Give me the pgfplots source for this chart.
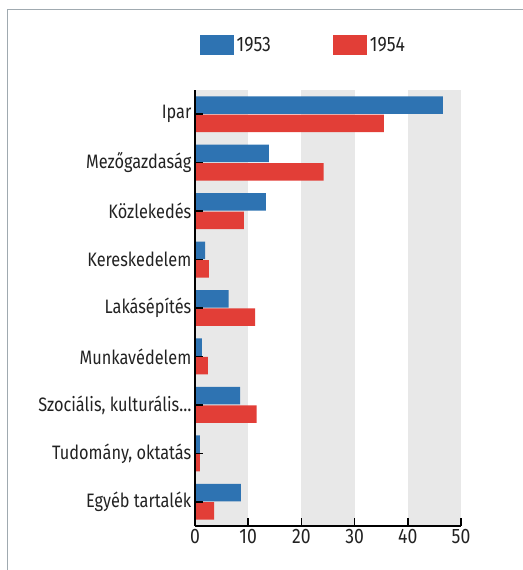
\documentclass[border=0pt]{standalone}
\usepackage{pgfplots}
\pgfplotsset{compat=1.18}
\usepackage{fontspec}
\setmainfont{Fira Sans}[FakeStretch=0.84]
\definecolor{cblue}{HTML}{2E73B2}
\definecolor{cred}{HTML}{E23E37}
\definecolor{band}{HTML}{E8E8E8}
\definecolor{frame}{HTML}{A0AAB0}
\definecolor{txt}{HTML}{222222}
\begin{document}
\begin{tikzpicture}[x=1bp,y=1bp]
\path[use as bounding box] (0,0) rectangle (523,570);
\draw[frame, line width=1.8bp] (7.5,0) -- (7.5,560.5) -- (523,560.5);
\begin{axis}[
  at={(195bp,44bp)}, anchor=south west,
  scale only axis, width=266bp, height=436bp,
  axis on top,
  xbar, bar width=17.5bp,
  xmin=0, xmax=50, ymin=-0.5, ymax=8.5,
  y dir=reverse,
  axis x line*=bottom, axis y line*=left,
  axis line style={line width=1.6bp, black, -},
  tick style={line width=1.6bp, black},
  tick align=inside,
  major tick length=8bp,
  xtick={0,10,20,30,40,50},
  ytick={0,...,8},
  yticklabels={Ipar,Mezőgazdaság,Közlekedés,Kereskedelem,Lakásépítés,Munkavédelem,{Szociális, kulturális\ldots},{Tudomány, oktatás},Egyéb tartalék},
  /pgf/number format/assume math mode=true,
  x tick label style={font=\fontsize{21}{21}\selectfont, text=txt},
  y tick label style={font=\fontsize{19.5}{19.5}\selectfont, text=txt, inner sep=3.5bp},
  legend columns=2,
  legend style={draw=none, fill=none, at={(axis description cs:0,1)}, anchor=west,
    xshift=5bp, yshift=45bp, inner sep=0pt,
    font=\fontsize{21}{21}\selectfont, text=txt,
    /tikz/every even column/.append style={column sep=60bp},
    nodes={inner sep=2.5bp}},
  legend image code/.code={\fill[#1] (0bp,-10bp) rectangle (34bp,10bp);},
]
\fill[band] (axis cs:0,-0.5) rectangle (axis cs:10,8.5);
\fill[band] (axis cs:20,-0.5) rectangle (axis cs:30,8.5);
\fill[band] (axis cs:40,-0.5) rectangle (axis cs:50,8.5);
\addplot[fill=cblue, draw=none, bar shift=9.2bp] coordinates {
(46.6,0) (13.9,1) (13.3,2) (1.9,3) (6.3,4) (1.3,5) (8.5,6) (0.9,7) (8.6,8)};
\addplot[fill=cred, draw=none, bar shift=-9.2bp] coordinates {
(35.5,0) (24.2,1) (9.2,2) (2.6,3) (11.3,4) (2.4,5) (11.6,6) (0.9,7) (3.6,8)};
\legend{1953,1954}
\end{axis}
\end{tikzpicture}
\end{document}
